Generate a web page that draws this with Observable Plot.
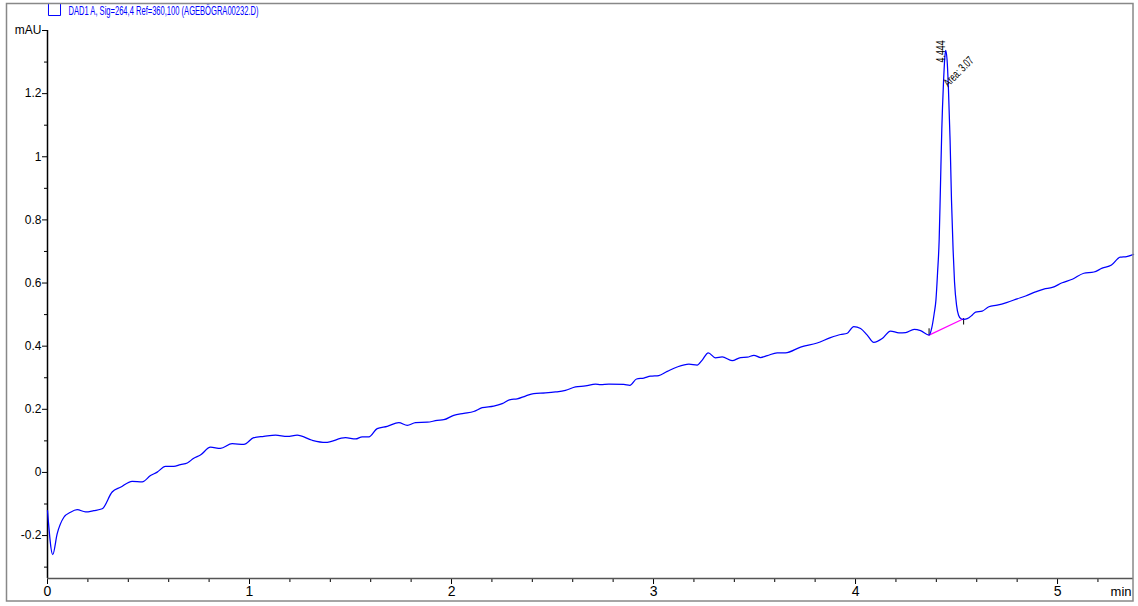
<!DOCTYPE html>
<html><head><meta charset="utf-8">
<script src="https://cdn.jsdelivr.net/npm/d3@7"></script>
<script src="https://cdn.jsdelivr.net/npm/@observablehq/plot@0.6"></script>
<style>body{margin:0;background:#fff;} svg{display:block;}</style>
</head><body><div id="chart"></div>
<script>
const title = "DAD1 A, Sig=264,4 Ref=360,100 (AGEBÖGRA00232.D)";
const yUnit = "mAU";
const xUnit = "min";

const time = [
  0, 0.026, 0.048, 0.081, 0.114, 0.147, 0.188, 0.229, 0.271, 0.320,
  0.361, 0.419, 0.469, 0.510, 0.543, 0.584, 0.625, 0.658, 0.692, 0.724,
  0.757, 0.807, 0.856, 0.914, 0.972, 1.021, 1.071, 1.129, 1.187, 1.236,
  1.310, 1.376, 1.475, 1.525, 1.558, 1.591, 1.632, 1.682, 1.739, 1.781,
  1.822, 1.880, 1.929, 1.962, 2.011, 2.061, 2.110, 2.152, 2.209, 2.251,
  2.292, 2.325, 2.366, 2.407, 2.465, 2.515, 2.564, 2.614, 2.663, 2.713,
  2.738, 2.779, 2.853, 2.883, 2.916, 2.952, 2.985, 3.026, 3.068, 3.117,
  3.175, 3.216, 3.241, 3.271, 3.307, 3.340, 3.389, 3.431, 3.464, 3.497,
  3.530, 3.563, 3.612, 3.653, 3.728, 3.810, 3.876, 3.926, 3.959, 3.991,
  4.025, 4.058, 4.090, 4.132, 4.173, 4.215, 4.248, 4.290, 4.322, 4.364,
  4.377, 4.389, 4.398, 4.406, 4.414, 4.420, 4.427, 4.435, 4.442, 4.446,
  4.453, 4.460, 4.468, 4.475, 4.483, 4.490, 4.500, 4.510, 4.522, 4.536,
  4.553, 4.577, 4.594, 4.627, 4.660, 4.701, 4.751, 4.800, 4.842, 4.891,
  4.932, 4.974, 5.023, 5.073, 5.130, 5.180, 5.221, 5.267, 5.310, 5.342,
  5.376
];
const signal = [
  -0.121, -0.260, -0.194, -0.142, -0.126, -0.118, -0.125, -0.121, -0.115, -0.062,
  -0.047, -0.028, -0.030, -0.010, 0.001, 0.019, 0.019, 0.025, 0.030, 0.045,
  0.055, 0.080, 0.076, 0.091, 0.089, 0.110, 0.114, 0.118, 0.114, 0.118,
  0.102, 0.095, 0.110, 0.106, 0.113, 0.113, 0.139, 0.146, 0.158, 0.149,
  0.158, 0.159, 0.165, 0.167, 0.181, 0.187, 0.193, 0.205, 0.210, 0.218,
  0.231, 0.233, 0.242, 0.250, 0.252, 0.255, 0.260, 0.271, 0.274, 0.280,
  0.278, 0.280, 0.279, 0.276, 0.296, 0.299, 0.305, 0.307, 0.320, 0.334,
  0.343, 0.340, 0.356, 0.379, 0.363, 0.366, 0.354, 0.364, 0.365, 0.371,
  0.364, 0.370, 0.379, 0.379, 0.397, 0.410, 0.427, 0.437, 0.441, 0.462,
  0.456, 0.435, 0.412, 0.424, 0.448, 0.442, 0.443, 0.453, 0.449, 0.435,
  0.457, 0.502, 0.546, 0.632, 0.737, 0.895, 1.086, 1.229, 1.314, 1.337,
  1.308, 1.213, 1.054, 0.863, 0.705, 0.603, 0.530, 0.498, 0.487, 0.485,
  0.487, 0.498, 0.508, 0.511, 0.525, 0.530, 0.539, 0.550, 0.559, 0.572,
  0.581, 0.586, 0.601, 0.612, 0.631, 0.635, 0.647, 0.657, 0.682, 0.684,
  0.691
];

const baselineTime = [4.364, 4.535];
const baselineSignal = [0.435, 0.487];
const peakRT = [4.444];
const peakArea = [3.07];

const xTicks = [0, 1, 2, 3, 4, 5];
const xMinorTicks = [0.2, 0.4, 0.6, 0.8, 1.2, 1.4, 1.6, 1.8, 2.2, 2.4, 2.6, 2.8, 3.2, 3.4, 3.6, 3.8, 4.2, 4.4, 4.6, 4.8, 5.2];
const yTicks = [-0.2, 0, 0.2, 0.4, 0.6, 0.8, 1, 1.2];
const yMinorTicks = [-0.3, -0.1, 0.1, 0.3, 0.5, 0.7, 0.9, 1.1, 1.3];
const xDomain = [0, 5.376];
const yDomain = [-0.336, 1.4];

const data = time.map((t, i) => ({t, v: signal[i]}));
const baseline = baselineTime.map((t, i) => ({t, v: baselineSignal[i], first: i === 0}));
const peaks = peakRT.map((t, i) => ({t, h: d3.max(signal), area: peakArea[i]}));

const font = "'Liberation Sans', Arial, sans-serif";
const blue = "#0000ff";

const chart = Plot.plot({
  width: 1138, height: 606,
  marginLeft: 47, marginRight: 5, marginTop: 30, marginBottom: 28,
  x: {domain: xDomain, label: null},
  y: {domain: yDomain, label: null},
  style: {fontFamily: font, background: "white", color: "black", overflow: "hidden"},
  marks: [
    Plot.axisY({ticks: yTicks, tickSize: 5, tickPadding: 1, fontSize: 12, tickFormat: d => String(d), label: null}),
    Plot.axisY({ticks: yMinorTicks, tickSize: 3, tickFormat: () => "", label: null}),
    Plot.axisY({ticks: [yDomain[1]], tickSize: 5, tickPadding: 1, fontSize: 12, tickFormat: () => yUnit, label: null}),
    Plot.axisX({ticks: xTicks, tickSize: 6, tickPadding: 2, fontSize: 14, tickFormat: d => String(d), label: null}),
    Plot.axisX({ticks: xMinorTicks, tickSize: 4, tickFormat: () => "", label: null}),
    Plot.axisX({ticks: [xDomain[1]], tickSize: 0, tickPadding: 8, fontSize: 13, tickFormat: () => xUnit, textAnchor: "end", dx: -2, label: null}),
    Plot.ruleX([xDomain[0]], {stroke: "black", strokeWidth: 1.5}),
    Plot.ruleY([yDomain[0]], {stroke: "#555", strokeWidth: 1.5}),
    Plot.line(baseline, {x: "t", y: "v", stroke: "#ff00ff", strokeWidth: 1.2}),
    Plot.ruleX(baseline, {x: "t", y1: "v", y2: d => d.first ? d.v + 0.02 : d.v - 0.02, stroke: "black", strokeWidth: 1}),
    Plot.line(data, {x: "t", y: "v", stroke: blue, strokeWidth: 1.25, curve: "monotone-x"}),
    Plot.text(peaks, {x: "t", y: "h", text: d => d.t.toFixed(3), rotate: -90, textAnchor: "start", lineAnchor: "bottom", dy: 12, fontSize: 12, fill: "black"}),
    Plot.text(peaks, {x: "t", y: "h", text: d => `Area: ${d.area}`, rotate: -45, textAnchor: "start", lineAnchor: "bottom", dx: 3, dy: 37, fontSize: 12, fill: "black"}),
    Plot.dot([title], {frameAnchor: "top-left", dx: 7, dy: -21, symbol: "square", r: 6.8, stroke: blue, fill: "none", strokeWidth: 1}),
    Plot.text([title], {frameAnchor: "top-left", dx: 21, dy: -20, text: d => d, textAnchor: "start", lineAnchor: "middle", fill: blue, fontSize: 13})
  ]
});

const svg = d3.select(chart);
svg.selectAll("text").each(function() {
  const t = this.textContent;
  if (t === title) { d3.select(this).attr("textLength", 190).attr("lengthAdjust", "spacingAndGlyphs"); }
  else if (t.startsWith("Area")) { d3.select(this).attr("textLength", 37).attr("lengthAdjust", "spacingAndGlyphs"); }
  else if (t === "4.444") { d3.select(this).attr("textLength", 22).attr("lengthAdjust", "spacingAndGlyphs"); }
});
svg.append("rect").attr("x", 6.5).attr("y", 3.5).attr("width", 1126.5).attr("height", 597.5)
  .attr("fill", "none").attr("stroke", "#888").attr("stroke-width", 1.5);
document.getElementById("chart").appendChild(chart);
</script>
</body></html>
